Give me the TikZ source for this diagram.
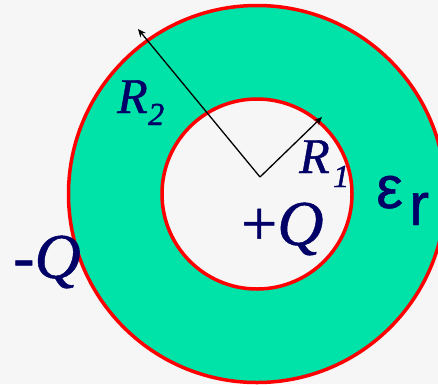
\documentclass[tikz,border=0pt]{standalone}
\usepackage{fontspec}
\setmainfont{Liberation Serif}
\newfontfamily\timesf{Liberation Serif}
\newfontfamily\sansf{Liberation Sans}
\usetikzlibrary{arrows.meta}
\definecolor{bg}{RGB}{246,246,246}
\definecolor{diel}{RGB}{0,227,168}
\definecolor{shell}{RGB}{255,0,0}
\definecolor{ink}{RGB}{0,0,102}
\newcommand\heavytext[1]{\special{pdf:literal 2 Tr 0.45 w}#1\special{pdf:literal 0 Tr}}
\tikzset{
  lab/.style={text=ink, inner sep=0pt, anchor=base west},
  radius arrow/.style={black, line width=1.3pt, -{Stealth[length=8pt,width=7pt]}},
  shellline/.style={draw=shell, line width=3.5pt},
}
\begin{document}
\begin{tikzpicture}[x=1pt,y=-1pt]
\useasboundingbox (0,0) rectangle (438,384);
\fill[bg] (0,0) rectangle (438,384);
\clip (0,0) rectangle (438,384);
\coordinate (c) at (257,194);
\coordinate (o) at (260,177);
\coordinate (p2) at (138,29);
\coordinate (p1) at (322,117);
\fill[diel] (c) circle (188.5);
\fill[bg] (c) circle (95);
\draw[shellline] (c) circle (188.5);
\draw[shellline] (c) circle (95);
\draw[radius arrow] (o) -- (p2);
\draw[radius arrow] (o) -- (p1);
\node[lab, font=\fontsize{50}{52}\selectfont\timesf\itshape] (r2) at (117,113) {\heavytext{R}};
\node[lab, font=\fontsize{32}{34}\selectfont\timesf\itshape] (r2s) at (148,125) {\heavytext{2}};
\node[lab, font=\fontsize{50}{52}\selectfont\timesf\itshape] (r1) at (299,173) {\heavytext{R}};
\node[lab, font=\fontsize{32}{34}\selectfont\timesf\itshape] (r1s) at (333,187) {\heavytext{1}};
\node[lab, font=\fontsize{64}{66}\selectfont\timesf] (pq) at (241,245) {\heavytext{+\textit{Q}}};
\node[lab, font=\fontsize{64}{66}\selectfont\timesf] (mq) at (13,278) {\heavytext{-\textit{Q}}};
\node[lab, font=\fontsize{60}{62}\selectfont\sansf] (eps) at (376,208) {\heavytext{ε}};
\node[lab, font=\fontsize{60}{62}\selectfont\sansf] (epsr) at (409,225) {\heavytext{r}};
\end{tikzpicture}
\end{document}
